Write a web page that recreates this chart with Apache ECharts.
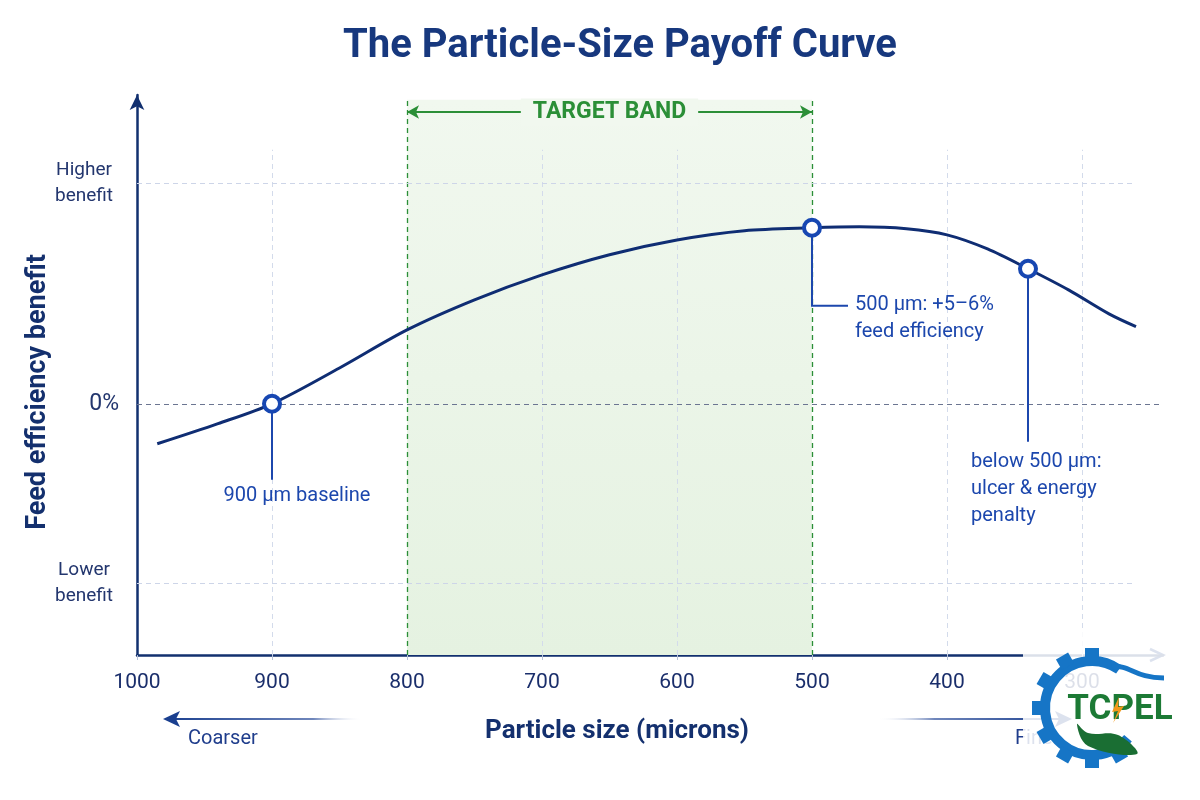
<!DOCTYPE html>
<html>
<head>
<meta charset="utf-8">
<script src="https://cdn.jsdelivr.net/npm/echarts@6/dist/echarts.min.js"></script>
<style>html,body{margin:0;padding:0;background:#fff}#c{width:1200px;height:800px}</style>
</head>
<body>
<div id="c"></div>
<script>
// ---- data ----
const xTicks = [1000, 900, 800, 700, 600, 500, 400, 300];
const sizeMicrons = [985, 940, 900, 850, 800, 750, 700, 650, 600, 550, 500, 465, 430, 400, 370, 340, 310, 280, 260];
const benefitPct  = [-1.25, -0.62, 0, 1.12, 2.31, 3.25, 4.03, 4.66, 5.12, 5.41, 5.5, 5.53, 5.47, 5.28, 4.84, 4.22, 3.56, 2.81, 2.41];
const highlightX = [900, 500, 340];
const highlightY = [0, 5.5, 4.22];
const highlightText = ['900 µm baseline', '500 µm: +5–6%\nfeed efficiency', 'below 500 µm:\nulcer & energy\npenalty'];
const bandRange = [800, 500];
const yTickValues = [6.9, 0, -5.6];
const yTickLabels = ['Higher\nbenefit', '0%', 'Lower\nbenefit'];
const lightGridX = [900, 700, 600, 400, 300];

const NAVY = '#12306f';
const BLUE = '#1c47ad';
const GREEN = '#2b8f37';
const FONT = 'Roboto, "Noto Sans", sans-serif';
const X_MIN = 240, X_MAX = 1000, Y_MIN = -7.85, Y_MAX = 9.65;

const chart = echarts.init(document.getElementById('c'));

const yLabelMap = {};
yTickValues.forEach((v, i) => yLabelMap[v] = yTickLabels[i]);

const gridLines = [];
lightGridX.forEach(x => gridLines.push([
  {coord: [x, Y_MIN], lineStyle: {color: '#d3dbeb', type: [5, 4], width: 1}},
  {coord: [x, 7.94]}
]));
bandRange.forEach(x => gridLines.push([
  {coord: [x, Y_MIN], lineStyle: {color: GREEN, type: [5, 4], width: 1.3}},
  {coord: [x, 9.5]}
]));
yTickValues.forEach(v => {
  if (v === 0) {
    gridLines.push([{coord: [X_MAX, 0], lineStyle: {color: '#6b7591', type: [5, 4], width: 1.2}}, {coord: [X_MIN, 0]}]);
  } else {
    gridLines.push([{coord: [X_MAX, v], lineStyle: {color: '#cdd5e8', type: [5, 4], width: 1}}, {coord: [262, v]}]);
  }
});

const option = {
  backgroundColor: '#ffffff',
  animation: false,
  title: {
    text: 'The Particle-Size Payoff Curve',
    left: 338, top: 22,
    textStyle: {fontFamily: FONT, fontSize: 40, fontWeight: 'bold', color: '#17387e'}
  },
  grid: {left: 137, right: 37, top: 95, bottom: 145},
  xAxis: {
    type: 'value', inverse: true, min: X_MIN, max: X_MAX,
    axisLine: {onZero: false, lineStyle: {color: NAVY, width: 2.5}},
    axisTick: {show: true, customValues: xTicks, length: 5, lineStyle: {color: '#b8c2d8'}},
    axisLabel: {customValues: xTicks, margin: 17, fontFamily: FONT, fontSize: 21, color: '#1a2e6b',
                formatter: v => String(v)},
    splitLine: {show: false}
  },
  yAxis: {
    type: 'value', min: Y_MIN, max: Y_MAX,
    axisLine: {show: true, onZero: false, lineStyle: {color: NAVY, width: 2.5}, symbol: ['none', 'arrow'], symbolSize: [11, 15]},
    axisTick: {show: false},
    axisLabel: {
      customValues: yTickValues, margin: 22, align: 'right',
      color: '#23366e',
      formatter: v => v === 0 ? '{z|0%}' : '{w|' + yLabelMap[v].replace('\n', '}\n{w|') + '}',
      rich: {
        w: {fontFamily: FONT, fontSize: 19, lineHeight: 26, color: '#23366e', align: 'center', width: 62},
        z: {fontFamily: FONT, fontSize: 23, color: '#23366e', padding: [0, -4, 0, 0]}
      }
    },
    splitLine: {show: false}
  },
  series: [
    {
      type: 'line', data: [], silent: true,
      markArea: {
        silent: true,
        itemStyle: {color: {type: 'linear', x: 0, y: 0, x2: 0, y2: 1, colorStops: [{offset: 0, color: '#f1f8ef'}, {offset: 1, color: '#e5f2e1'}]}},
        data: [[{coord: [bandRange[0], 9.5]}, {coord: [bandRange[1], Y_MIN]}]]
      },
      markLine: {silent: true, symbol: ['none', 'none'], label: {show: false}, data: gridLines}
    },
    {
      type: 'line', data: [], silent: true, z: 3,
      markLine: {
        silent: true, symbol: ['arrow', 'arrow'], symbolSize: [10, 12],
        lineStyle: {color: GREEN, type: 'solid', width: 2},
        label: {show: false},
        data: [[{coord: [bandRange[0], 9.12]}, {coord: [bandRange[1], 9.12]}]]
      }
    },
    {
      type: 'line', smooth: 0.3, symbol: 'none', z: 5,
      lineStyle: {color: '#0f2d73', width: 3},
      data: sizeMicrons.map((x, i) => [x, benefitPct[i]])
    },
    {
      type: 'scatter', z: 10, symbol: 'circle', symbolSize: 16,
      itemStyle: {color: '#ffffff', borderColor: '#1747b2', borderWidth: 4, opacity: 1},
      data: highlightX.map((x, i) => [x, highlightY[i]])
    }
  ]
};
chart.setOption(option);

// annotation graphics positioned through the chart's scales
const P = highlightX.map((x, i) => chart.convertToPixel({gridIndex: 0}, [x, highlightY[i]]));
const bandL = chart.convertToPixel({gridIndex: 0}, [bandRange[0], 9.12]);
const bandR = chart.convertToPixel({gridIndex: 0}, [bandRange[1], 9.12]);
const ann = {fontFamily: FONT, fontSize: 20, fill: BLUE, lineHeight: 27};
const lineSt = {stroke: BLUE, lineWidth: 2};

const graphics = [
  {type: 'text', x: (bandL[0] + bandR[0]) / 2, y: bandL[1], z: 20,
   style: {text: 'TARGET BAND', fontFamily: FONT, fontSize: 23, fontWeight: 'bold', fill: GREEN,
           align: 'center', verticalAlign: 'middle', backgroundColor: '#f1f8ef', padding: [2, 12]}},
  {type: 'line', z: 8, shape: {x1: P[0][0], y1: P[0][1] + 8, x2: P[0][0], y2: P[0][1] + 76}, style: lineSt},
  {type: 'text', z: 8, x: P[0][0] + 25, y: P[0][1] + 92, style: Object.assign({text: highlightText[0], align: 'center', verticalAlign: 'middle'}, ann)},
  {type: 'polyline', z: 8, shape: {points: [[P[1][0], P[1][1] + 8], [P[1][0], P[1][1] + 78], [P[1][0] + 36, P[1][1] + 78]]}, style: Object.assign({fill: null}, lineSt)},
  {type: 'text', z: 8, x: P[1][0] + 43, y: P[1][1] + 64, style: Object.assign({text: highlightText[1], align: 'left', verticalAlign: 'top'}, ann)},
  {type: 'line', z: 8, shape: {x1: P[2][0], y1: P[2][1] + 8, x2: P[2][0], y2: P[2][1] + 173}, style: lineSt},
  {type: 'text', z: 8, x: P[2][0] - 57, y: P[2][1] + 180, style: Object.assign({text: highlightText[2], align: 'left', verticalAlign: 'top'}, ann)},
  {type: 'text', x: 38, y: 392, rotation: Math.PI / 2,
   style: {text: 'Feed efficiency benefit', fontFamily: FONT, fontSize: 27, fontWeight: 'bold', fill: '#14306e', align: 'center', verticalAlign: 'middle'}},
  {type: 'text', x: 617, y: 731,
   style: {text: 'Particle size (microns)', fontFamily: FONT, fontSize: 26, fontWeight: 'bold', fill: '#14306e', align: 'center', verticalAlign: 'middle'}},
  {type: 'line', shape: {x1: 168, y1: 719, x2: 360, y2: 719},
   style: {lineWidth: 2, stroke: {type: 'linear', x: 0, y: 0, x2: 1, y2: 0, colorStops: [{offset: 0, color: '#1a3f8f'}, {offset: 0.75, color: '#6f86bb'}, {offset: 1, color: 'rgba(255,255,255,0)'}]}}},
  {type: 'polygon', shape: {points: [[163, 719], [180, 711], [176, 719], [180, 727]]}, style: {fill: '#1a3f8f'}},
  {type: 'text', x: 188, y: 739, style: {text: 'Coarser', fontFamily: FONT, fontSize: 20, fill: '#1f3d8c', align: 'left', verticalAlign: 'middle'}},
  {type: 'line', shape: {x1: 880, y1: 719, x2: 1065, y2: 719},
   style: {lineWidth: 2, stroke: {type: 'linear', x: 0, y: 0, x2: 1, y2: 0, colorStops: [{offset: 0, color: 'rgba(255,255,255,0)'}, {offset: 0.3, color: '#6f86bb'}, {offset: 1, color: '#1a3f8f'}]}}},
  {type: 'polygon', shape: {points: [[1072, 719], [1055, 711], [1059, 719], [1055, 727]]}, style: {fill: '#1a3f8f'}},
  {type: 'text', x: 1015, y: 739, style: {text: 'Finer', fontFamily: FONT, fontSize: 20, fill: '#1f3d8c', align: 'left', verticalAlign: 'middle'}},
  {type: 'polyline', shape: {points: [[1150, 649], [1163, 655], [1150, 661]]}, style: {stroke: '#1a3f8f', lineWidth: 2.5, fill: null}},
  // logo watermark
  {type: 'rect', z: 50, shape: {x: 1023, y: 632, width: 177, height: 160}, style: {fill: 'rgba(255,255,255,0.85)'}},
  {type: 'arc', z: 51, shape: {cx: 1092, cy: 708, r: 47, startAngle: 40 * Math.PI / 180, endAngle: 305 * Math.PI / 180, clockwise: true},
   style: {stroke: '#1675c6', lineWidth: 10, fill: null}}
];
[60, 90, 120, 150, 180, 210, 240, 270].forEach(a => {
  const r = a * Math.PI / 180;
  graphics.push({type: 'rect', z: 51, x: 1092 + 54 * Math.cos(r), y: 708 + 54 * Math.sin(r), rotation: -r,
    shape: {x: -6, y: -7, width: 12, height: 14}, style: {fill: '#1675c6'}});
});
graphics.push(
  {type: 'bezierCurve', z: 51, shape: {x1: 1112, y1: 667, cpx1: 1130, cpy1: 664, x2: 1164, y2: 678, cpx2: 1134, cpy2: 678}, style: {stroke: '#1675c6', lineWidth: 5, fill: null}},
  {type: 'text', z: 52, x: 1120, y: 710, style: {text: 'TCPEL', fontFamily: FONT, fontSize: 35, fontWeight: 'bold', fill: '#1c7a35', align: 'center', verticalAlign: 'middle'}},
  {type: 'polygon', z: 53, shape: {points: [[1119, 697], [1112, 712], [1118, 711], [1113, 723], [1124, 706], [1118, 707]]}, style: {fill: '#f29a1c'}},
  {type: 'polygon', z: 51, shape: {points: [[1077, 724], [1088, 746], [1137, 754], [1118, 735], [1088, 733]], smooth: 0.4}, style: {fill: '#1a6e33'}}
);
chart.setOption({graphic: graphics});
</script>
</body>
</html>
